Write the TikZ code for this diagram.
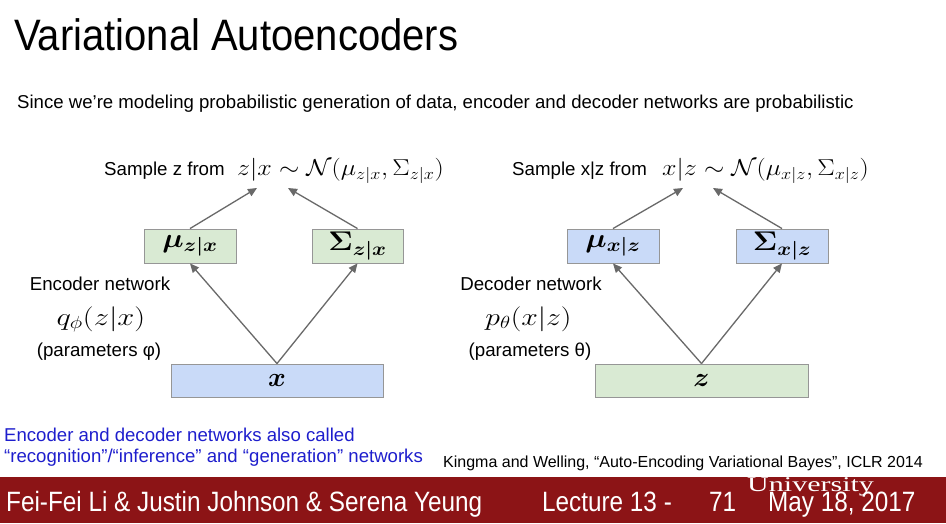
\RequirePackage{fix-cm}
\documentclass[tikz,border=0pt]{standalone}
\usepackage{amsmath,amssymb}
\usepackage{fontspec}
\setmainfont{Liberation Sans}
\newfontfamily\uniserif{Liberation Serif}
\usepackage{tikz}
\usetikzlibrary{arrows.meta}

\definecolor{encgreen}{RGB}{217,234,211}
\definecolor{decblue}{RGB}{201,218,248}
\definecolor{boxgray}{RGB}{150,150,150}
\definecolor{arrowgray}{RGB}{105,105,105}
\definecolor{notebl}{RGB}{30,30,205}
\definecolor{footred}{RGB}{140,20,22}

% wide maths, as on the slide
\newcommand{\widemath}[2]{\scalebox{#1}[1]{$#2$}}

\tikzset{
  parbox/.style={draw=boxgray, line width=0.9pt, minimum height=34pt, inner sep=0pt,
    font=\fontsize{27}{29}\selectfont\boldmath},
  flow/.style={draw=arrowgray, line width=1.3pt, -{Triangle[length=9pt,width=8pt]}},
  txt/.style={inner sep=0pt, anchor=base, font=\fontsize{18.7}{22}\selectfont},
  foot/.style={anchor=base west, inner sep=0pt, text=white, font=\fontsize{24.3}{26}\selectfont}
}

\begin{document}
\begin{tikzpicture}[x=1pt,y=1pt,yscale=-1,xscale=1]
%set diagram to 946 x 523
\path[use as bounding box, fill=white] (0,0) rectangle (946,523);

% Title
\node (title) [anchor=base west, inner sep=0pt, font=\fontsize{40}{44}\selectfont] at (14,50) {\scalebox{1}[1.1]{Variational Autoencoders}};
% Text Node
\node (intro) [anchor=base west, inner sep=0pt, font=\fontsize{18.6}{22}\selectfont] at (17,108) {Since we’re modeling probabilistic generation of data, encoder and decoder networks are probabilistic};

%Encoder side
\node (encsample) [txt, anchor=base west] at (104,175) {Sample z from};
\node (enceq) [inner sep=0pt, anchor=base west, font=\fontsize{23}{26}\selectfont] at (237,175) {\widemath{1.13}{z|x \sim \mathcal{N}(\mu_{z|x},\Sigma_{z|x})}};
\node (encmu) [parbox, fill=encgreen, minimum width=92pt] at (190,246) {\widemath{1.12}{\mu_{z|x}}};
\node (encsig) [parbox, fill=encgreen, minimum width=91pt] at (357.5,246) {\widemath{1.12}{\Sigma_{z|x}}};
\node (xin) [parbox, fill=decblue, minimum width=212pt, minimum height=33pt] at (277,380.5) {$x$};
\node (enclabel) [txt] at (100,290) {Encoder network};
\node (encq) [inner sep=0pt, anchor=base, font=\fontsize{25}{27}\selectfont] at (101,325) {\widemath{1.22}{q_\phi(z|x)}};
\node (encpar) [txt] at (99,356) {(parameters φ)};
\coordinate (encto1) at (257,188);
\coordinate (encto2) at (288,188);

\draw [flow] (xin.north) -- (encmu.south);
\draw [flow] (xin.north) -- (encsig.south);
\draw [flow] (encmu.north) -- (encto1);
\draw [flow] (encsig.north) -- (encto2);

%Decoder side
\node (decsample) [txt, anchor=base west] at (512,175) {Sample x|z from};
\node (deceq) [inner sep=0pt, anchor=base west, font=\fontsize{23}{26}\selectfont] at (662,175) {\widemath{1.13}{x|z \sim \mathcal{N}(\mu_{x|z},\Sigma_{x|z})}};
\node (decmu) [parbox, fill=decblue, minimum width=92pt] at (613,246) {\widemath{1.12}{\mu_{x|z}}};
\node (decsig) [parbox, fill=decblue, minimum width=92pt] at (782,246) {\widemath{1.12}{\Sigma_{x|z}}};
\node (zin) [parbox, fill=encgreen, minimum width=213pt, minimum height=33pt] at (701.5,380.5) {$z$};
\node (declabel) [txt] at (531,290) {Decoder network};
\node (decp) [inner sep=0pt, anchor=base, font=\fontsize{25}{27}\selectfont] at (528.5,325) {\widemath{1.19}{p_\theta(x|z)}};
\node (decpar) [txt] at (530,356) {(parameters θ)};
\coordinate (decto1) at (683,188);
\coordinate (decto2) at (713,188);

\draw [flow] (zin.north) -- (decmu.south);
\draw [flow] (zin.north) -- (decsig.south);
\draw [flow] (decmu.north) -- (decto1);
\draw [flow] (decsig.north) -- (decto2);

% Text Node
\node (note1) [anchor=base west, inner sep=0pt, text=notebl, font=\fontsize{18.6}{21}\selectfont] at (4,441) {Encoder and decoder networks also called};
\node (note2) [anchor=base west, inner sep=0pt, text=notebl, font=\fontsize{18.6}{21}\selectfont] at (4,462) {“recognition”/“inference” and “generation” networks};
% Text Node
\node (cite) [anchor=base west, inner sep=0pt, font=\fontsize{16}{18}\selectfont] at (443,467) {Kingma and Welling, “Auto-Encoding Variational Bayes”, ICLR 2014};

%Footer
\fill [footred] (0,477) rectangle (946,523);
\node (authors) [foot] at (6,511) {\scalebox{1}[1.15]{Fei-Fei Li \& Justin Johnson \& Serena Yeung}};
\node (lecture) [foot] at (542,511) {\scalebox{1}[1.15]{Lecture 13 -}};
\node (slideno) [foot] at (709,511) {\scalebox{1}[1.15]{71}};
\node (date) [foot] at (768,511) {\scalebox{1}[1.15]{May 18, 2017}};
\node (univ) [anchor=base west, inner sep=0pt, text=white, font=\uniserif\fontsize{21}{23}\selectfont] at (747,491) {\scalebox{1.43}[1]{University}};

\end{tikzpicture}
\end{document}
